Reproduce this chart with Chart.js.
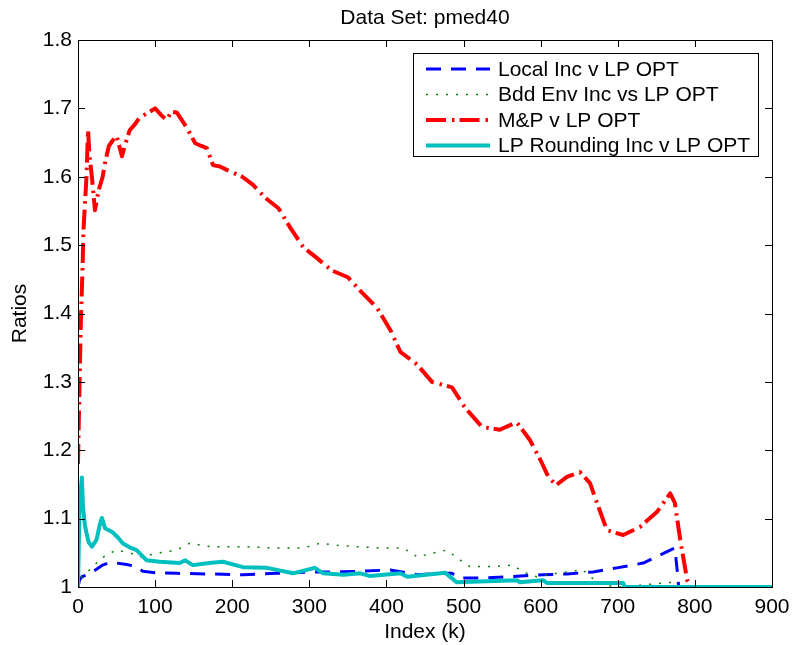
<!DOCTYPE html>
<html>
<head>
<meta charset="utf-8">
<script src="https://cdn.jsdelivr.net/npm/chart.js@4/dist/chart.umd.min.js"></script>
<style>
  body { margin: 0; background: #fff; }
  canvas { display: block; }
</style>
</head>
<body>
<canvas id="ratioChart" width="792" height="645"></canvas>
<script>
var xTicks = [0, 100, 200, 300, 400, 500, 600, 700, 800, 900];
var yTicks = [1, 1.1, 1.2, 1.3, 1.4, 1.5, 1.6, 1.7, 1.8];

var seriesNames = ["Local Inc v LP OPT", "Bdd Env Inc vs LP OPT", "M&P v LP OPT", "LP Rounding Inc v LP OPT"];

var localK = [0, 2, 5, 10, 16, 24, 32, 41, 50, 63, 75, 84, 100, 128, 171, 214, 258, 301, 336, 366, 405, 420, 440, 470, 485, 496, 526, 560, 603, 634, 668, 699, 733, 768, 774, 777, 779, 900];
var localV = [1.0, 1.01, 1.015, 1.017, 1.02, 1.026, 1.032, 1.036, 1.035, 1.033, 1.03, 1.023, 1.021, 1.02, 1.019, 1.018, 1.02, 1.022, 1.022, 1.023, 1.025, 1.022, 1.018, 1.02, 1.02, 1.013, 1.013, 1.015, 1.018, 1.019, 1.022, 1.028, 1.035, 1.054, 1.057, 1.025, 1.0, 1.0];

var bddK = [0, 2, 5, 12, 20, 28, 37, 50, 67, 80, 93, 106, 128, 145, 171, 214, 258, 292, 314, 336, 362, 392, 422, 440, 466, 478, 495, 508, 538, 564, 577, 595, 621, 655, 664, 681, 700, 742, 772, 776, 900];
var bddV = [1.0, 1.01, 1.015, 1.022, 1.03, 1.04, 1.047, 1.054, 1.05, 1.044, 1.047, 1.05, 1.054, 1.064, 1.059, 1.059, 1.057, 1.057, 1.064, 1.061, 1.059, 1.057, 1.057, 1.044, 1.051, 1.054, 1.04, 1.03, 1.03, 1.032, 1.022, 1.015, 1.02, 1.025, 1.015, 1.003, 1.0, 1.004, 1.007, 1.0, 1.0];

var mpK = [0, 2, 4, 6, 7, 9, 11, 13, 15, 18, 22, 25, 28, 32, 35, 40, 45, 50, 57, 62, 67, 74, 80, 90, 100, 108, 115, 121, 128, 134, 141, 152, 160, 167, 175, 184, 193, 203, 213, 227, 243, 260, 275, 292, 310, 329, 350, 368, 388, 405, 418, 440, 459, 485, 502, 524, 547, 569, 586, 600, 610, 620, 634, 651, 664, 673, 686, 707, 729, 751, 768, 774, 781, 790, 795];
var mpV = [1.18, 1.3, 1.4, 1.47, 1.52, 1.56, 1.6, 1.668, 1.63, 1.6, 1.551, 1.57, 1.585, 1.6, 1.62, 1.645, 1.653, 1.66, 1.63, 1.65, 1.668, 1.677, 1.687, 1.693, 1.70, 1.69, 1.683, 1.695, 1.694, 1.684, 1.672, 1.649, 1.645, 1.642, 1.617, 1.615, 1.61, 1.605, 1.60, 1.588, 1.569, 1.554, 1.526, 1.497, 1.481, 1.463, 1.453, 1.431, 1.408, 1.376, 1.344, 1.325, 1.30, 1.292, 1.262, 1.234, 1.23, 1.241, 1.215, 1.185, 1.161, 1.149, 1.161, 1.168, 1.152, 1.123, 1.083, 1.076, 1.088, 1.11, 1.137, 1.123, 1.069, 1.01, 1.0];

var lprK = [0, 2, 5, 6.5, 9, 11, 14, 18, 24, 28, 31, 35, 45, 52, 58, 67, 76, 89, 106, 132, 139, 149, 170, 188, 214, 245, 279, 307, 318, 344, 366, 379, 418, 427, 470, 476, 491, 569, 573, 603, 608, 660, 707, 709, 900];
var lprV = [1.0, 1.12, 1.16, 1.117, 1.09, 1.079, 1.065, 1.059, 1.069, 1.09, 1.101, 1.086, 1.08, 1.072, 1.064, 1.058, 1.054, 1.039, 1.037, 1.035, 1.039, 1.032, 1.035, 1.037, 1.029, 1.028, 1.02, 1.028, 1.02, 1.018, 1.02, 1.016, 1.02, 1.015, 1.02, 1.021, 1.007, 1.01, 1.007, 1.01, 1.006, 1.006, 1.006, 1.0, 1.0];

function pts(ks, vs) {
    return ks.map(function (k, i) { return { x: k, y: vs[i] }; });
}

var FONT = "'Liberation Sans', Arial, Helvetica, sans-serif";
var FSIZE = 21;

// box, inward ticks, title and legend drawn the matlab way
var matlabFrame = {
    id: 'matlabFrame',
    afterDraw: function (chart) {
        var ctx = chart.ctx, a = chart.chartArea;
        var xs = chart.scales.x, ys = chart.scales.y;
        var tl = 7;
        ctx.save();
        ctx.strokeStyle = '#000';
        ctx.lineWidth = 1;
        ctx.setLineDash([]);
        ctx.strokeRect(Math.round(a.left) + 0.5, Math.round(a.top) + 0.5,
            Math.round(a.right - a.left), Math.round(a.bottom - a.top));
        ctx.beginPath();
        xTicks.forEach(function (t) {
            var px = Math.round(xs.getPixelForValue(t)) + 0.5;
            ctx.moveTo(px, a.bottom); ctx.lineTo(px, a.bottom - tl);
            ctx.moveTo(px, a.top); ctx.lineTo(px, a.top + tl);
        });
        yTicks.forEach(function (t) {
            var py = Math.round(ys.getPixelForValue(t)) + 0.5;
            ctx.moveTo(a.left, py); ctx.lineTo(a.left + tl, py);
            ctx.moveTo(a.right, py); ctx.lineTo(a.right - tl, py);
        });
        ctx.stroke();

        // title
        ctx.fillStyle = '#000';
        ctx.font = FSIZE + 'px ' + FONT;
        ctx.textAlign = 'center';
        ctx.textBaseline = 'alphabetic';
        ctx.fillText('Data Set: pmed40', (a.left + a.right) / 2, 24);

        // legend
        var bx = 413, by = 53, bw = 345, bh = 103, rowH = 25.5;
        ctx.fillStyle = '#fff';
        ctx.fillRect(bx, by, bw, bh);
        ctx.strokeStyle = '#000';
        ctx.lineWidth = 1;
        ctx.strokeRect(bx + 0.5, by + 0.5, bw, bh);
        ctx.textAlign = 'left';
        ctx.textBaseline = 'middle';
        chart.data.datasets.forEach(function (ds, i) {
            var yy = by + 16 + i * rowH;
            ctx.save();
            ctx.strokeStyle = ds.borderColor;
            ctx.lineWidth = ds.borderWidth;
            ctx.setLineDash(ds.borderDash || []);
            ctx.beginPath();
            ctx.moveTo(bx + 13, yy);
            ctx.lineTo(bx + 77, yy);
            ctx.stroke();
            ctx.restore();
            ctx.fillStyle = '#000';
            ctx.fillText(ds.label, bx + 85, yy + 1);
        });
        ctx.restore();
    }
};

var ctx = document.getElementById("ratioChart");
var myChart = new Chart(ctx, {
    type: 'line',
    data: {
        datasets: [
            {
                label: seriesNames[0],
                data: pts(localK, localV),
                borderColor: "#0000ff",
                borderWidth: 3,
                borderDash: [15, 10],
                order: 3
            },
            {
                label: seriesNames[1],
                data: pts(bddK, bddV),
                borderColor: "#008000",
                borderWidth: 1.5,
                borderDash: [2, 8],
                order: 2
            },
            {
                label: seriesNames[2],
                data: pts(mpK, mpV),
                borderColor: "#ff0000",
                borderWidth: 4,
                borderDash: [20, 6, 2.5, 5],
                order: 1
            },
            {
                label: seriesNames[3],
                data: pts(lprK, lprV),
                borderColor: "#00bfbf",
                borderWidth: 4,
                order: 0
            }
        ]
    },
    options: {
        responsive: false,
        animation: false,
        parsing: false,
        layout: { padding: { left: 0, right: 20, top: 40, bottom: 0 } },
        elements: {
            point: { radius: 0 },
            line: { tension: 0, fill: false, borderCapStyle: 'butt', borderJoinStyle: 'round' }
        },
        plugins: {
            legend: { display: false },
            tooltip: { enabled: false }
        },
        scales: {
            x: {
                type: 'linear',
                min: 0,
                max: 900,
                afterFit: function (s) {
                    s.height = 58;
                    s.paddingLeft = 0;
                    s.paddingRight = 0;
                },
                afterBuildTicks: function (s) { s.ticks = xTicks.map(function (v) { return { value: v }; }); },
                grid: { display: false, drawTicks: false },
                border: { display: false },
                ticks: {
                    padding: 8,
                    color: '#000',
                    font: { family: FONT, size: FSIZE },
                    maxRotation: 0,
                    autoSkip: false,
                    callback: function (v) { return String(v); }
                },
                title: {
                    display: true,
                    text: 'Index (k)',
                    color: '#000',
                    font: { family: FONT, size: FSIZE },
                    padding: { top: 0, bottom: 0 }
                }
            },
            y: {
                type: 'linear',
                min: 1,
                max: 1.8,
                afterFit: function (s) {
                    s.width = 78;
                    s.paddingTop = 0;
                    s.paddingBottom = 0;
                },
                afterBuildTicks: function (s) { s.ticks = yTicks.map(function (v) { return { value: v }; }); },
                grid: { display: false, drawTicks: false },
                border: { display: false },
                ticks: {
                    padding: 6,
                    color: '#000',
                    font: { family: FONT, size: FSIZE },
                    autoSkip: false,
                    callback: function (v) { return String(Math.round(v * 10) / 10); }
                },
                title: {
                    display: true,
                    text: 'Ratios',
                    color: '#000',
                    font: { family: FONT, size: FSIZE },
                    padding: { top: 8, bottom: 0 }
                }
            }
        }
    },
    plugins: [matlabFrame]
});
</script>
</body>
</html>
